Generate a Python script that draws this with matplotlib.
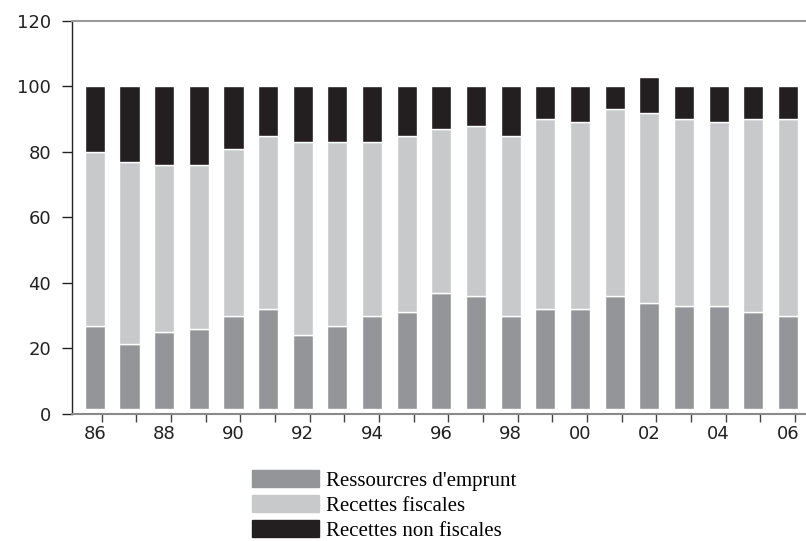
import matplotlib
matplotlib.use('Agg')
import matplotlib.pyplot as plt
from matplotlib.patches import Patch
import numpy as np

years = list(range(1986, 2007))
tick_labels = ['86', '88', '90', '92', '94', '96', '98', '00', '02', '04', '06']

# part of each bar, in % (boundary readings)
emprunt = [27, 21.5, 25, 26, 30, 32, 24, 27, 30, 31, 37, 36, 30, 32, 32, 36, 34, 33, 33, 31, 30]
fiscal_top = [80, 77, 76, 76, 81, 85, 83, 83, 83, 85, 87, 88, 85, 90, 89, 93, 92, 90, 89, 90, 90]
total = [100, 100, 100, 100, 100, 100, 100, 100, 100, 100, 100, 100, 100, 100, 100, 100, 103, 100, 100, 100, 100]
fiscales = [t - e for t, e in zip(fiscal_top, emprunt)]
non_fiscales = [s - t for s, t in zip(total, fiscal_top)]

c_emp = '#939598'
c_fis = '#c8c9cb'
c_non = '#231f20'

fig = plt.figure(figsize=(8.06, 5.41), dpi=100)
ax = fig.add_axes([0.0893, 0.2348, 0.9107, 0.7265])

x = np.array(years, dtype=float)
base = 1.5
w = 0.58
emp = np.array(emprunt)
fis = np.array(fiscales)
non = np.array(non_fiscales)
ax.bar(x, emp - base, w, bottom=base, color=c_emp, edgecolor='white', lw=1)
ax.bar(x, fis, w, bottom=emp, color=c_fis, edgecolor='white', lw=1)
ax.bar(x, non, w, bottom=emp + fis, color=c_non, edgecolor='white', lw=1)

ax.set_ylim(0, 120)
ax.set_xlim(1985.34, 2006.52)
ax.set_yticks(range(0, 121, 20))
ax.set_xticks(years[::2])
ax.set_xticklabels(tick_labels)
ax.set_xticks(x + 0.2, minor=True)
ax.tick_params(axis='x', which='major', length=0, pad=8, labelsize=13, labelcolor='#222222')
ax.tick_params(axis='x', which='minor', length=6, width=1, color='#444444', direction='out')
ax.tick_params(axis='y', length=7, width=1, pad=8, labelsize=13, color='#222222', labelcolor='#222222')

ax.spines['right'].set_visible(False)
ax.spines['top'].set_color('#9a9a9a')
ax.spines['top'].set_linewidth(1.5)
ax.spines['bottom'].set_color('#8a8a8a')
ax.spines['bottom'].set_linewidth(1.5)
ax.spines['left'].set_color('#222222')
ax.spines['left'].set_linewidth(1)

handles = [Patch(color=c_emp), Patch(color=c_fis), Patch(color=c_non)]
names = ["Ressourcres d'emprunt", 'Recettes fiscales', 'Recettes non fiscales']
fig.legend(handles, names, loc='upper left', bbox_to_anchor=(0.3127, 0.131),
           frameon=False, prop={'family': 'Liberation Serif', 'size': 15},
           handlelength=3.2, handleheight=0.88, handletextpad=0.35,
           labelspacing=0.2, borderpad=0, borderaxespad=0)

fig.savefig('out.png', dpi=100)
